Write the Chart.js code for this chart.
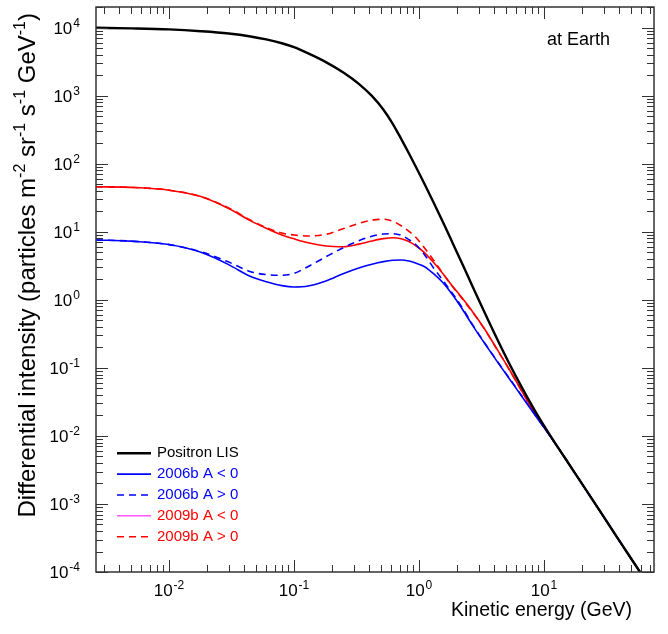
<!DOCTYPE html>
<html>
<head>
<meta charset="utf-8">
<script src="https://cdn.jsdelivr.net/npm/chart.js@4.4.1/dist/chart.umd.min.js"></script>
<style>
  html, body { margin: 0; padding: 0; background: #fff; }
</style>
</head>
<body>
<canvas id="spectrumChart" width="668" height="634"></canvas>
<script>
// kinetic energy grid (GeV)
const energyGeV = [0.0026, 0.005, 0.01, 0.018, 0.03, 0.045, 0.06, 0.08, 0.1, 0.13,
  0.18, 0.25, 0.33, 0.42, 0.52, 0.62, 0.72, 0.83, 0.95, 1.1,
  1.3, 1.55, 1.85, 2.2, 2.7, 3.3, 4.2, 5.3, 6.7, 8.5,
  11, 15, 20, 28, 40, 60];

// differential intensity, particles m^-2 sr^-1 s^-1 GeV^-1
const positronLIS = [1.0e4, 9.8e3, 9.46e3, 8.9e3, 8.24e3, 7.45e3, 6.74e3, 5.92e3, 5.18e3, 4.2e3,
  3.13e3, 2.18e3, 1.5e3, 996, 623, 381, 233, 143, 88.5, 51.9,
  27.7, 14.1, 7.0, 3.5, 1.54, 0.69, 0.27, 0.114, 0.0505, 0.0232,
  0.0107, 4.5e-3, 2.02e-3, 7.9e-4, 2.9e-4, 9.4e-5];
const blue2006Neg = [7.6, 7.3, 6.5, 5.0, 3.3, 2.2, 1.85, 1.62, 1.55, 1.6,
  1.9, 2.45, 2.95, 3.35, 3.65, 3.82, 3.85, 3.72, 3.45, 3.1,
  2.45, 1.8, 1.2, 0.752, 0.415, 0.239, 0.126, 0.0688, 0.0374, 0.0201,
  0.0104, 4.5e-3, 2.02e-3, 7.9e-4, 2.9e-4, 9.4e-5];
const blue2006Pos = [7.6, 7.3, 6.5, 5.1, 3.6, 2.6, 2.35, 2.3, 2.45, 3.1,
  4.3, 5.9, 7.4, 8.6, 9.3, 9.4, 8.9, 7.7, 6.4, 4.7,
  3.0, 1.95, 1.25, 0.79, 0.425, 0.243, 0.128, 0.07, 0.038, 0.0204,
  0.0104, 4.5e-3, 2.02e-3, 7.9e-4, 2.9e-4, 9.4e-5];
const red2009Neg = [46, 45, 41, 33, 22, 14.5, 11.3, 9.0, 7.9, 6.9,
  6.2, 6.05, 6.6, 7.35, 7.95, 8.2, 7.9, 7.2, 6.2, 5.0,
  3.6, 2.45, 1.6, 1.08, 0.66, 0.39, 0.19, 0.094, 0.0445, 0.0212,
  0.0106, 4.5e-3, 2.02e-3, 7.9e-4, 2.9e-4, 9.4e-5];
const red2009Pos = [46, 45, 41, 33, 22.5, 14.8, 11.6, 9.6, 9.0, 8.7,
  9.2, 11.2, 13.3, 14.8, 15.3, 14.3, 12.3, 10.2, 8.2, 5.9,
  3.9, 2.45, 1.58, 1.06, 0.65, 0.385, 0.188, 0.093, 0.0442, 0.0211,
  0.0106, 4.5e-3, 2.02e-3, 7.9e-4, 2.9e-4, 9.4e-5];

const xDecades = [-2, -1, 0, 1];
const yDecades = [-4, -3, -2, -1, 0, 1, 2, 3, 4];
const xRange = [2.606e-3, 75.9];
const yRange = [1e-4, 2.02e4];

const FONT = '"Liberation Sans", Arial, Helvetica, sans-serif';

function toPoints(values) {
  return values.map((v, i) => ({ x: energyGeV[i], y: v }));
}

function series(label, values, color, width, dash, legendColor, legendWidth) {
  return {
    label: label,
    data: toPoints(values),
    borderColor: color,
    borderWidth: width,
    borderDash: dash,
    pointRadius: 0,
    fill: false,
    cubicInterpolationMode: 'monotone',
    legendColor: legendColor || color,
    legendWidth: legendWidth || width
  };
}

// "10" with a raised exponent; y is the middle of the digits
function drawPower(ctx, exp, x, y, align) {
  const baseFont = '17px ' + FONT;
  const supFont = '12px ' + FONT;
  ctx.font = baseFont;
  const wBase = ctx.measureText('10').width;
  ctx.font = supFont;
  const sup = String(exp);
  const wSup = ctx.measureText(sup).width;
  const total = wBase + 1 + wSup;
  let left = x;
  if (align === 'center') left = x - total / 2;
  else if (align === 'right') left = x - total;
  const baseline = y + 6;
  ctx.textAlign = 'left';
  ctx.textBaseline = 'alphabetic';
  ctx.font = baseFont;
  ctx.fillText('10', left, baseline);
  ctx.font = supFont;
  ctx.fillText(sup, left + wBase + 1, baseline - 7);
}

// pieces of the rotated y title: [text, isSuperscript]
const yTitleRuns = [
  ['Differential intensity (particles m', false], ['-2', true],
  [' sr', false], ['-1', true],
  [' s', false], ['-1', true],
  [' GeV', false], ['-1', true],
  [')', false]
];

const decorations = {
  id: 'decorations',
  afterDraw(chart) {
    const { ctx, chartArea: a, scales } = chart;
    const xs = scales.x, ys = scales.y;
    ctx.save();
    ctx.fillStyle = '#000';
    ctx.strokeStyle = '#333';

    // inward ticks on all four sides
    ctx.lineWidth = 1;
    ctx.beginPath();
    for (let d = -3; d <= 1; d++) {
      for (let m = 1; m <= 9; m++) {
        const v = m * Math.pow(10, d);
        if (v < xRange[0] || v > xRange[1]) continue;
        const px = Math.round(xs.getPixelForValue(v)) + 0.5;
        const len = m === 1 ? 12 : 7;
        ctx.moveTo(px, a.bottom); ctx.lineTo(px, a.bottom - len);
        ctx.moveTo(px, a.top); ctx.lineTo(px, a.top + len);
      }
    }
    for (let d = -4; d <= 4; d++) {
      for (let m = 1; m <= 9; m++) {
        const v = m * Math.pow(10, d);
        if (v < yRange[0] || v > yRange[1]) continue;
        const py = Math.round(ys.getPixelForValue(v)) + 0.5;
        const len = m === 1 ? 12 : 7;
        ctx.moveTo(a.left, py); ctx.lineTo(a.left + len, py);
        ctx.moveTo(a.right, py); ctx.lineTo(a.right - len, py);
      }
    }
    ctx.stroke();

    // frame
    ctx.lineWidth = 1.5;
    ctx.strokeRect(a.left, a.top, a.right - a.left, a.bottom - a.top);

    // tick labels
    xDecades.forEach(d => drawPower(ctx, d, xs.getPixelForValue(Math.pow(10, d)), 590, 'center'));
    yDecades.forEach(d => drawPower(ctx, d, 80, ys.getPixelForValue(Math.pow(10, d)), 'right'));

    // x title
    ctx.font = '19.5px ' + FONT;
    ctx.textAlign = 'right';
    ctx.textBaseline = 'alphabetic';
    ctx.fillText('Kinetic energy (GeV)', 632, 616);

    // annotation
    ctx.font = '18px ' + FONT;
    ctx.textAlign = 'left';
    ctx.fillText('at Earth', 547, 45);

    // y title, rotated, ending near the top of the frame
    ctx.save();
    ctx.translate(35, 0);
    ctx.rotate(-Math.PI / 2);
    const runFont = sup => (sup ? '16px ' : '24px ') + FONT;
    let total = 0;
    yTitleRuns.forEach(([t, sup]) => {
      ctx.font = runFont(sup);
      total += ctx.measureText(t).width;
    });
    let u = -(13 + total);
    yTitleRuns.forEach(([t, sup]) => {
      ctx.font = runFont(sup);
      ctx.fillText(t, u, sup ? -10 : 0);
      u += ctx.measureText(t).width;
    });
    ctx.restore();

    // legend
    const rowTop = 453.3, rowStep = 20.85;
    chart.data.datasets.forEach((ds, i) => {
      const yRow = rowTop + i * rowStep;
      ctx.save();
      ctx.strokeStyle = ds.legendColor;
      ctx.lineWidth = ds.legendWidth;
      ctx.setLineDash(ds.borderDash || []);
      ctx.beginPath();
      ctx.moveTo(117, yRow);
      ctx.lineTo(151, yRow);
      ctx.stroke();
      ctx.restore();
      ctx.font = '15px ' + FONT;
      ctx.fillStyle = ds.borderColor;
      ctx.textAlign = 'left';
      ctx.textBaseline = 'middle';
      ctx.fillText(ds.label, 157, yRow);
    });

    ctx.restore();
  }
};

new Chart(document.getElementById('spectrumChart'), {
  type: 'line',
  data: {
    datasets: [
      series('Positron LIS', positronLIS, '#000000', 2.4, []),
      series('2006b A < 0', blue2006Neg, '#0000ff', 1.6, []),
      series('2006b A > 0', blue2006Pos, '#0000ff', 1.6, [7, 5]),
      series('2009b A < 0', red2009Neg, '#ff0000', 1.6, [], '#ff00ff', 1),
      series('2009b A > 0', red2009Pos, '#ff0000', 1.6, [7, 5])
    ]
  },
  options: {
    responsive: false,
    animation: false,
    layout: { padding: { left: 96, right: 14, top: 7, bottom: 62 } },
    plugins: {
      legend: { display: false },
      title: { display: false },
      tooltip: { enabled: false }
    },
    scales: {
      x: { type: 'logarithmic', min: xRange[0], max: xRange[1], display: false },
      y: { type: 'logarithmic', min: yRange[0], max: yRange[1], display: false }
    }
  },
  plugins: [decorations]
});
</script>
</body>
</html>
